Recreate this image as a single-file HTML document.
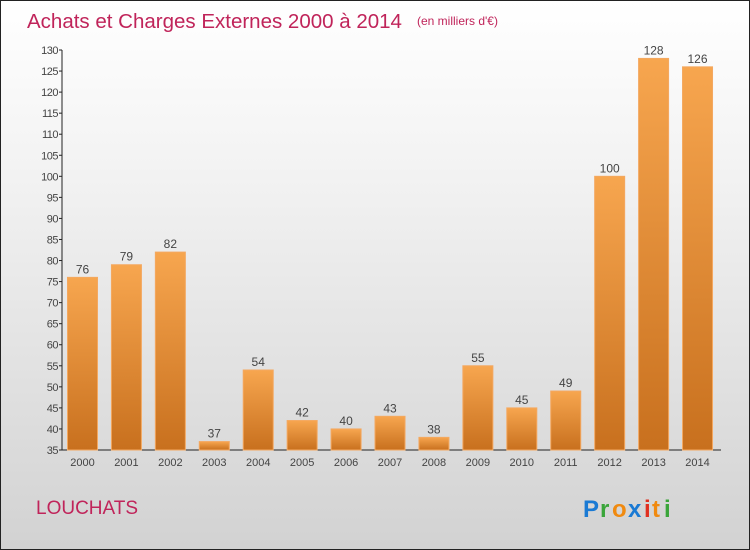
<!DOCTYPE html>
<html><head><meta charset="utf-8"><style>
body{margin:0}
#c{position:relative;width:748px;height:548px;border:1px solid #222;background:linear-gradient(#ffffff,#f3f3f3 30%,#d2d2d2);font-family:"Liberation Sans",sans-serif;overflow:hidden}
</style></head><body>
<div id="c">
<svg id="s" width="748" height="548">
<defs><linearGradient id="g" x1="0" y1="0" x2="0" y2="1"><stop offset="0" stop-color="#f7a64f"/><stop offset="1" stop-color="#c8701e"/></linearGradient></defs>
<text x="26" y="27" font-size="20.5" fill="#c0245a">Achats et Charges Externes 2000 à 2014</text>
<text x="416" y="24" font-size="12" fill="#c0245a">(en milliers d'€)</text>
<text x="35" y="513" font-size="19" fill="#c0245a">LOUCHATS</text>
<g font-size="24" font-weight="bold">
<text x="582" y="516" fill="#1a7ad4">P</text><text x="599" y="516" fill="#3aa53a">r</text><text x="611" y="516" fill="#f08a10">o</text><text x="627" y="516" fill="#1a7ad4">x</text><text x="643" y="516" fill="#e03020">i</text><text x="651" y="516" fill="#f08a10">t</text><text x="663" y="516" fill="#3aa53a">i</text>
</g>
<g id="plot"></g>
</svg></div>
<script>
const years=["2000","2001","2002","2003","2004","2005","2006","2007","2008","2009","2010","2011","2012","2013","2014"];
const values=[76,79,82,37,54,42,40,43,38,55,45,49,100,128,126];
const ticks=[35,40,45,50,55,60,65,70,75,80,85,90,95,100,105,110,115,120,125,130];
const NS="http://www.w3.org/2000/svg";
const p=document.getElementById('plot');
const y0=449,y1=49,vmin=35,vmax=130;
const Y=v=>y0-(v-vmin)*(y0-y1)/(vmax-vmin);
const X=i=>81.5+i*43.93;
function mk(t,a){const e=document.createElementNS(NS,t);for(const k in a)e.setAttribute(k,a[k]);p.appendChild(e);return e;}
let e=mk('line',{x1:61,y1:y1,x2:61,y2:y0,stroke:'#222'});

e=mk('line',{x1:61,y1:y0,x2:720,y2:y0,stroke:'#222'});

ticks.forEach(t=>{
 let l=mk('line',{x1:58,y1:Y(t),x2:61,y2:Y(t),stroke:'#222'});
 
 let tx=mk('text',{x:57,y:Y(t)+4,'font-size':11,'text-anchor':'end',fill:'#444','letter-spacing':'-0.5'});
 tx.textContent=t;
 
});
years.forEach((yr,i)=>{
 const v=values[i],x=X(i);
 let r=mk('rect',{x:x-15,y:Y(v),width:30,height:y0-Y(v),fill:'url(#g)',stroke:'#f4a860','stroke-width':1});
 
 let t=mk('text',{x:x,y:Y(v)-4,'font-size':12,'text-anchor':'middle',fill:'#444'});
 t.textContent=v;
 
 let xl=mk('text',{x:x,y:y0+16,'font-size':11,'text-anchor':'middle',fill:'#444'});
 xl.textContent=yr;
 
});
</script>
</body></html>
